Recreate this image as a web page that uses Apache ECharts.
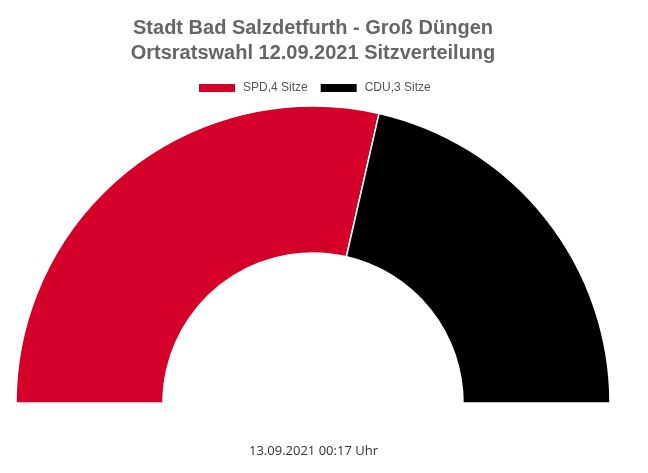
<!DOCTYPE html>
<html><head><meta charset="utf-8">
<script src="https://cdn.jsdelivr.net/npm/echarts@6/dist/echarts.min.js"></script>
<style>html,body{margin:0;padding:0;background:#fff}#c{width:648px;height:473px}</style>
</head><body><div id="c"></div>
<script>
const parties = ['SPD,4 Sitze', 'CDU,3 Sitze'];
const seats = [4, 3];
const colors = ['#d50029', '#000000'];
const titleText = 'Stadt Bad Salzdetfurth - Groß Düngen\nOrtsratswahl 12.09.2021 Sitzverteilung';
const footerText = '13.09.2021 00:17 Uhr';

const chart = echarts.init(document.getElementById('c'), null, {renderer: 'canvas'});
chart.setOption({
  animation: false,
  title: {
    text: titleText,
    left: 308, top: 11, textAlign: 'center',
    textStyle: {fontFamily: 'Liberation Sans', fontSize: 20, fontWeight: 'bold', color: '#666666', lineHeight: 25}
  },
  legend: {
    top: 77, left: 192,
    itemWidth: 38, itemHeight: 10, itemGap: 11, icon: 'rect',
    textStyle: {fontFamily: 'Liberation Sans', fontSize: 12, color: '#555555', padding: [0, 0, 0, 2]},
    data: parties
  },
  graphic: [{
    type: 'text', left: 249, top: 445,
    style: {text: footerText, font: '13px "Open Sans"', fill: '#333333'}
  }],
  series: [{
    type: 'pie',
    center: [313, 403],
    radius: [150, 297],
    startAngle: 180,
    endAngle: 0,
    clockwise: true,
    label: {show: false},
    labelLine: {show: false},
    emphasis: {disabled: true},
    itemStyle: {borderColor: '#ffffff', borderWidth: 1.5},
    data: parties.map((p, i) => ({name: p, value: seats[i], itemStyle: {color: colors[i]}}))
  }]
});
</script></body></html>
